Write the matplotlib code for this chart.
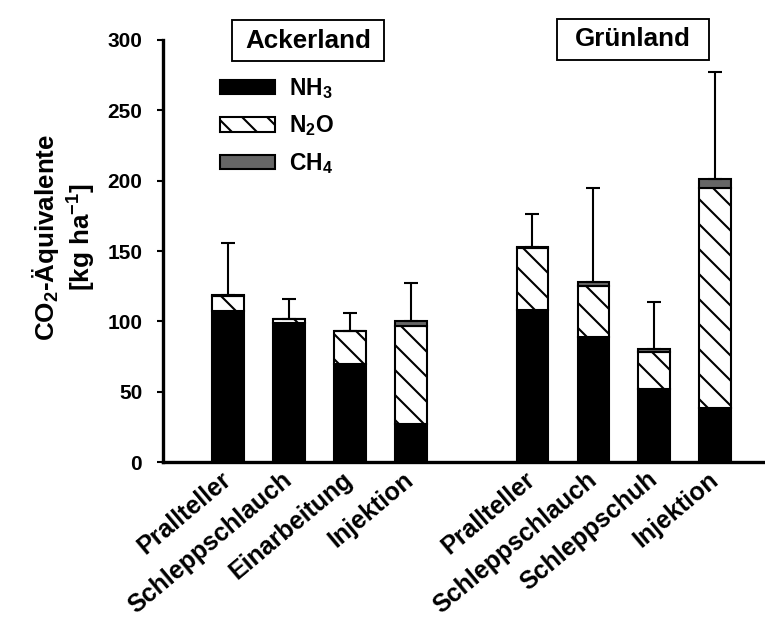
import numpy as np
import matplotlib.pyplot as plt
from matplotlib.patches import Patch, Rectangle

plt.rcParams['font.family'] = ['Liberation Sans', 'DejaVu Sans']
plt.rcParams['font.weight'] = 'bold'
plt.rcParams['mathtext.fontset'] = 'custom'
plt.rcParams['mathtext.rm'] = 'Liberation Sans:bold'
plt.rcParams['mathtext.it'] = 'Liberation Sans:bold'
plt.rcParams['mathtext.bf'] = 'Liberation Sans:bold'
plt.rcParams['mathtext.default'] = 'rm'
plt.rcParams['hatch.linewidth'] = 1.0

# --------------------------------------- data ---------------------------------------
groups = ['Ackerland', 'Grünland']
methods_acker = ['Prallteller', 'Schleppschlauch', 'Einarbeitung', 'Injektion']
methods_gruen = ['Prallteller', 'Schleppschlauch', 'Schleppschuh', 'Injektion']
nh3 = [107, 98.5, 69.5, 27, 108, 89, 52, 38.5]
n2o = [11, 3, 23.5, 70, 44, 36, 26, 156.5]
ch4 = [0.5, 0.5, 0, 3, 0.5, 3, 2, 6]
err = [37, 14, 13, 27, 24, 67, 34, 76]

nh3 = np.array(nh3)
n2o = np.array(n2o)
ch4 = np.array(ch4)
tot = nh3 + n2o + ch4
x = np.concatenate([np.arange(4), np.arange(4) + 5])
labels = methods_acker + methods_gruen

fig = plt.figure(figsize=(5.1, 4.14), dpi=150)
ax = fig.add_axes([0.2131, 0.256, 0.7869, 0.6796])

w = 0.52
ax.bar(x, nh3, w, color='black', edgecolor='black', lw=1)
ax.bar(x, n2o, w, bottom=nh3, color='white', edgecolor='black', lw=1, hatch='\\\\')
ax.bar(x, ch4, w, bottom=nh3 + n2o, color='0.4', edgecolor='black', lw=1)
ax.errorbar(x, tot, yerr=[np.zeros_like(tot), err], fmt='none', ecolor='black',
            elinewidth=1, capsize=3.2, capthick=1)

ax.set_xlim(-1.07, 8.82)
ax.set_ylim(0, 300)
ax.set_yticks(np.arange(0, 301, 50))
ax.set_xticks(x)
ax.set_xticklabels(labels, rotation=40, ha='right', va='center', rotation_mode='anchor',
                   fontsize=12, fontweight='bold')
ax.tick_params(axis='x', length=0, pad=7)
ax.tick_params(axis='y', length=3, width=1, labelsize=10, pad=7)
for s in ['top', 'right']:
    ax.spines[s].set_visible(False)
ax.spines['left'].set_linewidth(1.6)
ax.spines['bottom'].set_linewidth(1.6)

fig.text(64/765, 1-237/621, 'CO$_2$-Äquivalente\n[kg ha$^{-1}$]', rotation=90,
         ha='center', va='center', multialignment='center', fontsize=12.5, fontweight='bold')

# group boxes
for g, (bx, by) in zip(groups, [(232, 20), (557, 19)]):
    fig.add_artist(Rectangle((bx/765, 1-(by+41)/621), 152/765, 41/621, transform=fig.transFigure,
                             fill=False, edgecolor='black', lw=0.9))
    fig.text((bx+76)/765, 1-(by+20.5)/621, g, ha='center', va='center',
             fontsize=12.5, fontweight='bold')

handles = [Patch(facecolor='black', edgecolor='black', lw=1),
           Patch(facecolor='white', edgecolor='black', lw=1, hatch='\\\\'),
           Patch(facecolor='0.4', edgecolor='black', lw=1)]
ax.legend(handles, ['NH$_3$', 'N$_2$O', 'CH$_4$'], loc='upper left',
          bbox_to_anchor=(220/765, 1-76/621), bbox_transform=fig.transFigure,
          frameon=False, fontsize=11, handlelength=2.4, handleheight=0.6,
          handletextpad=0.6, labelspacing=0.55, borderpad=0, borderaxespad=0)

fig.savefig('out.png', dpi=150)
